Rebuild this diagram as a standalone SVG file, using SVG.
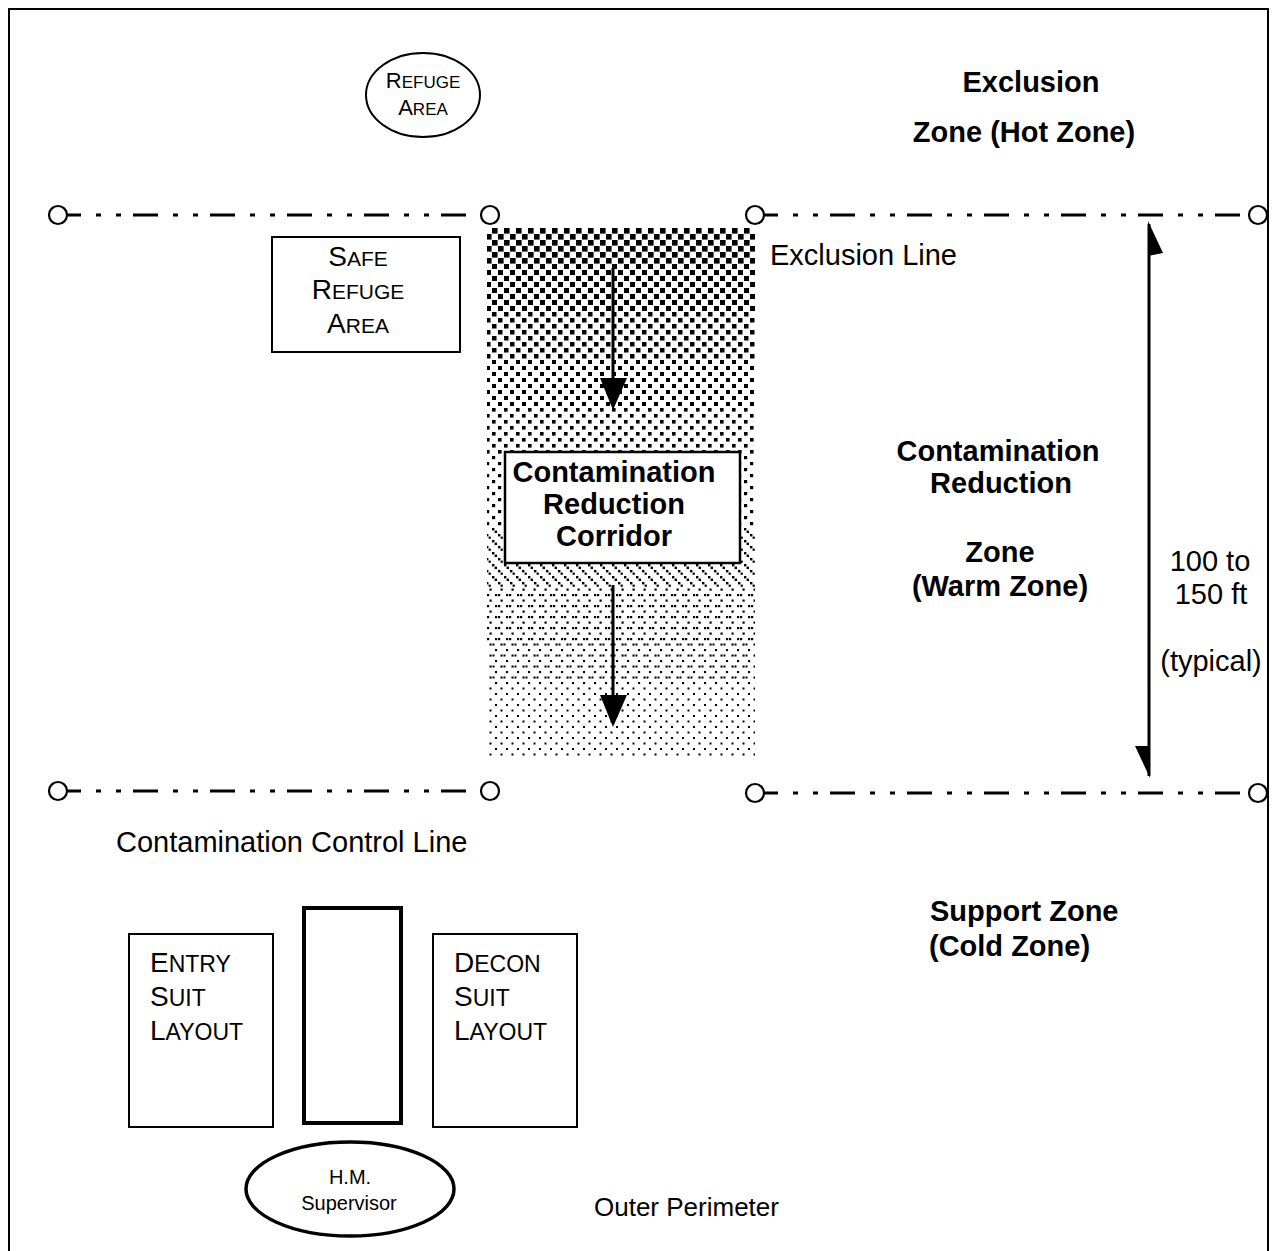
<svg xmlns="http://www.w3.org/2000/svg" width="1276" height="1251" viewBox="0 0 1276 1251">
<style>
text { font-family: "Liberation Sans", Arial, sans-serif; fill: #000; }
.b { font-weight: bold; font-size: 29px; }
.r { font-size: 29px; }
.box { fill: #fff; stroke: #000; stroke-width: 2; }
.dash { stroke: #000; stroke-width: 3; fill: none; stroke-dasharray: 25 15 5 15 5 12; stroke-dashoffset: 11; }
.end { fill: #fff; stroke: #000; stroke-width: 2.2; }
.arr { stroke: #000; stroke-width: 3; fill: none; }
</style>
<defs>
<pattern id="p1" width="12" height="12" patternUnits="userSpaceOnUse"><rect width="5.6" height="5.6"/><rect x="6" y="6" width="5.6" height="5.6"/></pattern>
<pattern id="p2" width="12" height="12" patternUnits="userSpaceOnUse"><rect width="5" height="5"/><rect x="6" y="6" width="5" height="5"/></pattern>
<pattern id="p3" width="12" height="12" patternUnits="userSpaceOnUse"><rect width="4.5" height="4.5"/><rect x="6" y="6" width="4.5" height="4.5"/></pattern>
<pattern id="p4" width="12" height="12" patternUnits="userSpaceOnUse"><rect width="4" height="4"/><rect x="6" y="6" width="4" height="4"/></pattern>
<pattern id="p5" width="12" height="12" patternUnits="userSpaceOnUse"><rect width="3.6" height="3.6"/><rect x="6" y="6" width="3.6" height="3.6"/></pattern>
<pattern id="p6" width="12" height="12" patternUnits="userSpaceOnUse"><rect width="3.2" height="3.2"/><rect x="6" y="6" width="3.2" height="3.2"/></pattern>
<pattern id="p7" width="12" height="12" patternUnits="userSpaceOnUse"><rect width="2.4" height="2.4"/><rect x="2.6" y="2.6" width="2.4" height="2.4"/><rect x="6" y="6" width="2.4" height="2.4"/><rect x="8.6" y="8.6" width="2.2" height="2.2"/></pattern>
<pattern id="p8" width="11" height="11" patternUnits="userSpaceOnUse"><rect width="2.2" height="2.2"/><rect x="3" y="0" width="2.2" height="2.2"/><rect x="5.5" y="5.5" width="2.2" height="2.2"/></pattern>
<pattern id="p9" width="11" height="11" patternUnits="userSpaceOnUse"><rect width="2.1" height="2.1"/><rect x="5.5" y="5.5" width="2.1" height="2.1"/><rect x="8.5" y="5.5" width="2" height="2"/></pattern>
<pattern id="p10" width="11" height="11" patternUnits="userSpaceOnUse"><rect width="2" height="2"/><rect x="5.5" y="5.5" width="2" height="2"/></pattern>
</defs>
<rect width="1276" height="1251" fill="#fff"/>
<rect x="9" y="9" width="1259" height="1262" fill="none" stroke="#000" stroke-width="2"/>

<g id="corridor-shading">
<rect x="487" y="228" width="268" height="36" fill="url(#p1)"/>
<rect x="487" y="264" width="268" height="48" fill="url(#p2)"/>
<rect x="487" y="312" width="268" height="48" fill="url(#p3)"/>
<rect x="487" y="360" width="268" height="48" fill="url(#p4)"/>
<rect x="487" y="408" width="268" height="48" fill="url(#p5)"/>
<rect x="487" y="456" width="268" height="72" fill="url(#p6)"/>
<rect x="487" y="528" width="268" height="60" fill="url(#p7)"/>
<rect x="487" y="588" width="268" height="55" fill="url(#p8)"/>
<rect x="487" y="643" width="268" height="44" fill="url(#p9)"/>
<rect x="487" y="687" width="268" height="71" fill="url(#p10)"/>
</g>

<g id="connectors">
<line class="dash" x1="67" y1="215" x2="481" y2="215"/>
<line class="dash" x1="764" y1="215" x2="1249" y2="215"/>
<line class="dash" x1="67" y1="791" x2="481" y2="791"/>
<line class="dash" x1="764" y1="793" x2="1249" y2="793"/>
<circle class="end" cx="58" cy="215" r="9"/>
<circle class="end" cx="490" cy="215" r="9"/>
<circle class="end" cx="755" cy="215" r="9"/>
<circle class="end" cx="1258" cy="215" r="9"/>
<circle class="end" cx="58" cy="791" r="9"/>
<circle class="end" cx="490" cy="791" r="9"/>
<circle class="end" cx="755" cy="793" r="9"/>
<circle class="end" cx="1258" cy="793" r="9"/>
<line class="arr" x1="613" y1="268" x2="613" y2="382"/>
<polygon points="600,378 627,378 613,410"/>
<line class="arr" x1="613" y1="585" x2="613" y2="700"/>
<polygon points="600,695 627,695 613,727"/>
<line class="arr" x1="1149" y1="224" x2="1149" y2="776"/>
<polygon points="1148,221 1163,253 1148,256"/>
<polygon points="1135,746 1150,746 1150,778"/>
</g>

<g id="refuge-area">
<ellipse cx="423" cy="95" rx="57" ry="42" fill="#fff" stroke="#000" stroke-width="2"/>
<text x="423" y="88" text-anchor="middle" font-size="22">R<tspan font-size="17">EFUGE</tspan></text>
<text x="423" y="115" text-anchor="middle" font-size="22">A<tspan font-size="17">REA</tspan></text>
</g>

<g id="exclusion-zone-label">
<text class="b" x="1031" y="92" text-anchor="middle">Exclusion</text>
<text class="b" x="1024" y="142" text-anchor="middle">Zone (Hot Zone)</text>
</g>

<g id="exclusion-line-label">
<text class="r" x="770" y="265">Exclusion Line</text>
</g>

<g id="safe-refuge-area">
<rect class="box" x="272" y="237" width="188" height="115"/>
<text x="358" y="266" text-anchor="middle" font-size="28">S<tspan font-size="21">AFE</tspan></text>
<text x="358" y="299" text-anchor="middle" font-size="28">R<tspan font-size="21">EFUGE</tspan></text>
<text x="358" y="333" text-anchor="middle" font-size="28">A<tspan font-size="21">REA</tspan></text>
</g>

<g id="corridor-box">
<rect x="505" y="452" width="235" height="111" fill="#fff" stroke="#000" stroke-width="2.5"/>
<text class="b" x="614" y="482" text-anchor="middle">Contamination</text>
<text class="b" x="614" y="514" text-anchor="middle">Reduction</text>
<text class="b" x="614" y="546" text-anchor="middle">Corridor</text>
</g>

<g id="warm-zone-label">
<text class="b" x="998" y="461" text-anchor="middle">Contamination</text>
<text class="b" x="1001" y="493" text-anchor="middle">Reduction</text>
<text class="b" x="1000" y="562" text-anchor="middle">Zone</text>
<text class="b" x="1000" y="596" text-anchor="middle">(Warm Zone)</text>
</g>

<g id="distance-label">
<text class="r" x="1210" y="571" text-anchor="middle">100 to</text>
<text class="r" x="1211" y="604" text-anchor="middle">150 ft</text>
<text class="r" x="1211" y="671" text-anchor="middle">(typical)</text>
</g>

<g id="control-line-label">
<text class="r" x="116" y="852">Contamination Control Line</text>
</g>

<g id="support-zone-label">
<text class="b" x="930" y="921">Support Zone</text>
<text class="b" x="929" y="956">(Cold Zone)</text>
</g>

<g id="entry-suit-layout">
<rect class="box" x="129" y="934" width="144" height="193"/>
<text x="150" y="972" font-size="28">E<tspan font-size="23">NTRY</tspan></text>
<text x="150" y="1006" font-size="28">S<tspan font-size="23">UIT</tspan></text>
<text x="150" y="1040" font-size="28">L<tspan font-size="23">AYOUT</tspan></text>
</g>

<g id="center-box">
<rect x="304" y="908" width="97" height="215" fill="#fff" stroke="#000" stroke-width="4"/>
</g>

<g id="decon-suit-layout">
<rect class="box" x="433" y="934" width="144" height="193"/>
<text x="454" y="972" font-size="28">D<tspan font-size="23">ECON</tspan></text>
<text x="454" y="1006" font-size="28">S<tspan font-size="23">UIT</tspan></text>
<text x="454" y="1040" font-size="28">L<tspan font-size="23">AYOUT</tspan></text>
</g>

<g id="hm-supervisor">
<ellipse cx="350" cy="1189" rx="104" ry="47" fill="#fff" stroke="#000" stroke-width="3.5"/>
<text x="350" y="1184" text-anchor="middle" font-size="20">H.M.</text>
<text x="349" y="1210" text-anchor="middle" font-size="20">Supervisor</text>
</g>

<g id="outer-perimeter-label">
<text x="594" y="1216" font-size="26">Outer Perimeter</text>
</g>
</svg>
